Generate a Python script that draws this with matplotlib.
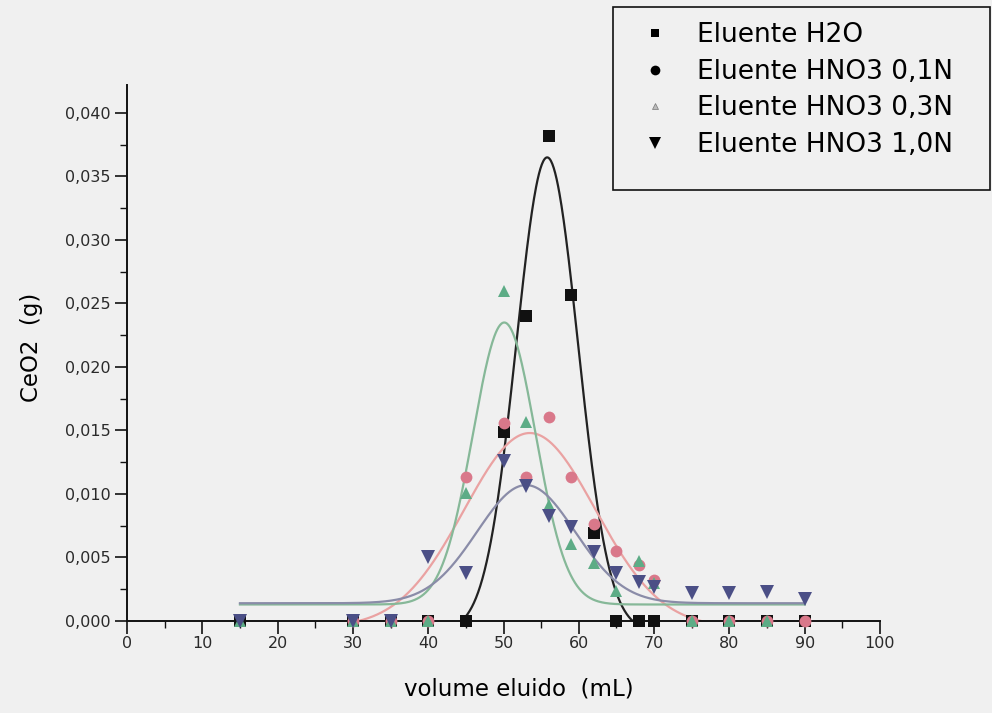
import numpy as np
import matplotlib
matplotlib.use("Agg")
import matplotlib.pyplot as plt
from matplotlib.lines import Line2D
from matplotlib.patches import Rectangle
from matplotlib.ticker import MultipleLocator, FuncFormatter

# ---------------- data ----------------
x_h2o = [15, 30, 35, 40, 45, 50, 53, 56, 59, 62, 65, 68, 70, 75, 80, 85, 90]
y_h2o = [0, 0, 0, 0, 0, 0.0149, 0.0240, 0.0382, 0.0257, 0.0069, 0, 0, 0, 0, 0, 0, 0]

x_01 = [30, 35, 40, 45, 50, 53, 56, 59, 62, 65, 68, 70, 75, 80, 85, 90]
y_01 = [0, 0, 0, 0.0113, 0.0156, 0.0113, 0.0161, 0.0113, 0.0076, 0.0055, 0.0044, 0.0032, 0, 0, 0, 0]

x_03 = [15, 30, 35, 40, 45, 50, 53, 56, 59, 62, 65, 68, 70, 75, 80, 85]
y_03 = [0, 0, 0, 0, 0.0101, 0.0260, 0.0157, 0.0091, 0.0061, 0.0046, 0.0024, 0.0047, 0.0030, 0, 0, 0]

x_10 = [15, 30, 35, 40, 45, 50, 53, 56, 59, 62, 65, 68, 70, 75, 80, 85, 90]
y_10 = [0, 0, 0, 0.0050, 0.0038, 0.0126, 0.0106, 0.0083, 0.0074, 0.0054, 0.0038, 0.0031, 0.0027, 0.0022, 0.0022, 0.0023, 0.0017]

# Gaussian fit parameters (y0, height, centre, sigma)
fit_h2o = (-0.0008, 0.0373, 55.8, 4.1)
fit_01 = (-0.0005, 0.0153, 53.5, 8.7)
fit_03 = (0.0013, 0.0222, 50.1, 4.15)
fit_10 = (0.0014, 0.0093, 53.0, 6.5)
# x range over which each fitted curve is drawn
fit_range = [(15, 90), (30, 90), (15, 90), (15, 90)]

labels = ["Eluente H2O", "Eluente HNO3 0,1N", "Eluente HNO3 0,3N", "Eluente HNO3 1,0N"]

# ---------------- style ----------------
BG = "#f0f0f0"
c_h2o, c_01, c_03, c_10 = "#111111", "#d9788a", "#5dac86", "#4b4f86"
cl_h2o, cl_01, cl_03, cl_10 = "#222222", "#eaa2a2", "#86b898", "#8a8ca8"

fig = plt.figure(figsize=(9.92, 7.13), dpi=100, facecolor=BG)
ax = fig.add_axes([127 / 992, 1 - 621 / 713, (880 - 127) / 992, (621 - 85) / 713])
ax.set_facecolor(BG)


def gauss(x, p):
    y0, h, xc, s = p
    return y0 + h * np.exp(-(x - xc) ** 2 / (2 * s ** 2))


series = [
    (x_h2o, y_h2o, fit_h2o, c_h2o, cl_h2o, "s", 8.5),
    (x_01, y_01, fit_01, c_01, cl_01, "o", 8.5),
    (x_03, y_03, fit_03, c_03, cl_03, "^", 9),
    (x_10, y_10, fit_10, c_10, cl_10, "v", 9.5),
]

for i, ((xs, ys, p, c, cl, m, ms), (x0, x1)) in enumerate(zip(series, fit_range)):
    xf = np.linspace(x0, x1, 800)
    ax.plot(xf, gauss(xf, p), color=cl, lw=1.6, zorder=2 + i * 0.1)

for i, (xs, ys, p, c, cl, m, ms) in enumerate(series):
    ax.plot(xs, ys, linestyle="none", marker=m, markersize=ms, color=c,
            markeredgewidth=0, clip_on=False, zorder=3 + i * 0.1)

ax.set_xlim(0, 100)
ax.set_ylim(0, 0.0422)

for s in ("top", "right"):
    ax.spines[s].set_visible(False)
for s in ("left", "bottom"):
    ax.spines[s].set_linewidth(1.4)
    ax.spines[s].set_color("#111111")

ax.xaxis.set_major_locator(MultipleLocator(10))
ax.xaxis.set_minor_locator(MultipleLocator(5))
ax.yaxis.set_major_locator(MultipleLocator(0.005))
ax.yaxis.set_minor_locator(MultipleLocator(0.0025))
ax.yaxis.set_major_formatter(FuncFormatter(lambda v, pos: f"{v:.3f}".replace(".", ",")))
ax.xaxis.set_major_formatter(FuncFormatter(lambda v, pos: f"{v:.0f}"))

ax.tick_params(axis="both", which="major", direction="out", length=9, width=1.2,
               colors="#111111", labelsize=11.5, labelcolor="#2a2a2a")
ax.tick_params(axis="both", which="minor", direction="out", length=5, width=1.0, colors="#111111")
ax.tick_params(axis="y", which="major", pad=3)
ax.tick_params(axis="x", which="major", pad=2)

ax.set_xlabel("volume eluido  (mL)", fontsize=16.5, color="#000000")
ax.xaxis.set_label_coords(0.52, -0.105)
ax.set_ylabel("CeO2  (g)", fontsize=16.5, color="#000000")
ax.yaxis.set_label_coords(-0.112, 0.51)

# legend frame (fixed box like the original)
fig.patches.append(Rectangle((613 / 992, 1 - 190 / 713), 377 / 992, 183 / 713,
                             transform=fig.transFigure, facecolor=BG, edgecolor="#111111",
                             linewidth=1.2, zorder=5))

handles = [
    Line2D([], [], linestyle="none", marker="s", markersize=6, color="black", markeredgewidth=0),
    Line2D([], [], linestyle="none", marker="o", markersize=7, color="black", markeredgewidth=0),
    Line2D([], [], linestyle="none", marker="^", markersize=5, color="#bbbbbb", markeredgecolor="#777777", markeredgewidth=0.5),
    Line2D([], [], linestyle="none", marker="v", markersize=8, color="black", markeredgewidth=0),
]
leg = fig.legend(handles, labels, loc="upper left",
                 bbox_to_anchor=(613 / 992, 1 - 7 / 713),
                 borderaxespad=0, fontsize=19, frameon=False,
                 borderpad=0.58, handlelength=2.02, handletextpad=0.58, labelspacing=0.4)
leg.set_zorder(6)

fig.savefig("out.png", dpi=100, facecolor=BG)
